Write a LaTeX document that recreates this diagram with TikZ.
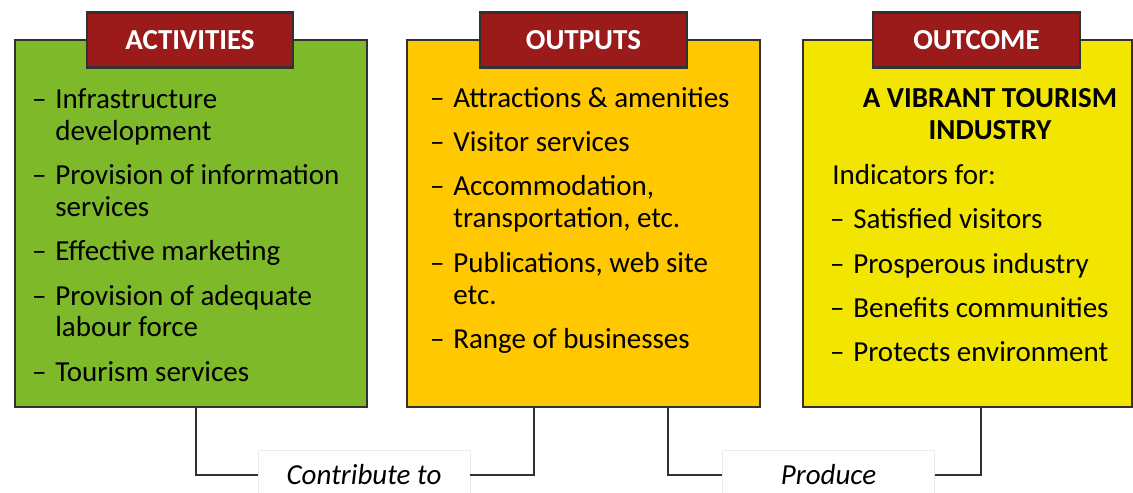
\documentclass[tikz,border=0pt]{standalone}
\usepackage{fontspec}
\setmainfont{Carlito}
\usepackage{xcolor}
\usepackage{tikz}

\definecolor{actgreen}{RGB}{125,185,40}
\definecolor{outamber}{RGB}{255,200,0}
\definecolor{resyellow}{RGB}{242,230,0}
\definecolor{tabred}{RGB}{155,27,27}
\definecolor{linegray}{RGB}{50,50,50}
\newcommand{\dsh}{\llap{--\hspace{0.3em}}}

\begin{document}
\begin{tikzpicture}[x=0.02cm, y=-0.02cm,
    panel/.style={draw=linegray, line width=1.2pt, minimum height=7.34cm},
    tab/.style={draw=linegray, line width=1.2pt, fill=tabred, text=white,
      font=\fontsize{16.5}{18}\selectfont\bfseries, minimum height=1.1cm},
    items/.style={anchor=north west, align=left, inner sep=0pt,
      font=\fontsize{16.5}{18.2}\selectfont},
    tag/.style={draw=gray!15, fill=white, minimum height=1cm, minimum width=4.24cm,
      font=\fontsize{16.5}{18}\selectfont\itshape},
    link/.style={draw=linegray, line width=1.2pt}
    ]
    \useasboundingbox (0,0) rectangle (1133,493);

    % the three panels
    \node[panel, fill=actgreen, minimum width=7.04cm] (act) at (191,223.5) {};
    \node[panel, fill=outamber, minimum width=7.06cm] (out) at (583.5,223.5) {};
    \node[panel, fill=resyellow, minimum width=6.58cm] (res) at (967.5,223.5) {};

    % headings
    \node[tab, minimum width=4.12cm] (acttab) at (190,40) {ACTIVITIES};
    \node[tab, minimum width=4.14cm] (outtab) at (583.5,40) {OUTPUTS};
    \node[tab, minimum width=4.14cm] (restab) at (976.5,40) {OUTCOME};

    \node[items] (actlist) at (55,88) {\dsh Infrastructure\\
      development\\[7pt]
      \dsh Provision of information\\
      services\\[7pt]
      \dsh Effective marketing\\[7pt]
      \dsh Provision of adequate\\
      labour force\\[7pt]
      \dsh Tourism services};

    \node[items] (outlist) at (453,87) {\dsh Attractions \& amenities\\[7pt]
      \dsh Visitor services\\[7pt]
      \dsh Accommodation,\\
      transportation, etc.\\[7pt]
      \dsh Publications, web site\\
      etc.\\[7pt]
      \dsh Range of businesses};

    \node[items, anchor=north, align=center, font=\fontsize{16.5}{18.2}\selectfont\bfseries]
      (reshead) at (990,88) {A VIBRANT TOURISM\\INDUSTRY};
    \node[items] (reslist) at (853,164) {\hspace*{-0.42cm}Indicators for:\\[7pt]
      \dsh Satisfied visitors\\[7pt]
      \dsh Prosperous industry\\[7pt]
      \dsh Benefits communities\\[7pt]
      \dsh Protects environment};

    % links
    \node[tag] (contrib) at (364,475) {Contribute to};
    \node[tag] (produce) at (828.5,475) {Produce};

    \draw[link] ([xshift=0.1cm]act.south) |- (contrib.west);
    \draw[link] (contrib.east) -| ([xshift=-0.99cm]out.south);
    \draw[link] ([xshift=1.69cm]out.south) |- (produce.west);
    \draw[link] (produce.east) -| ([xshift=0.27cm]res.south);
  \end{tikzpicture}
\end{document}
